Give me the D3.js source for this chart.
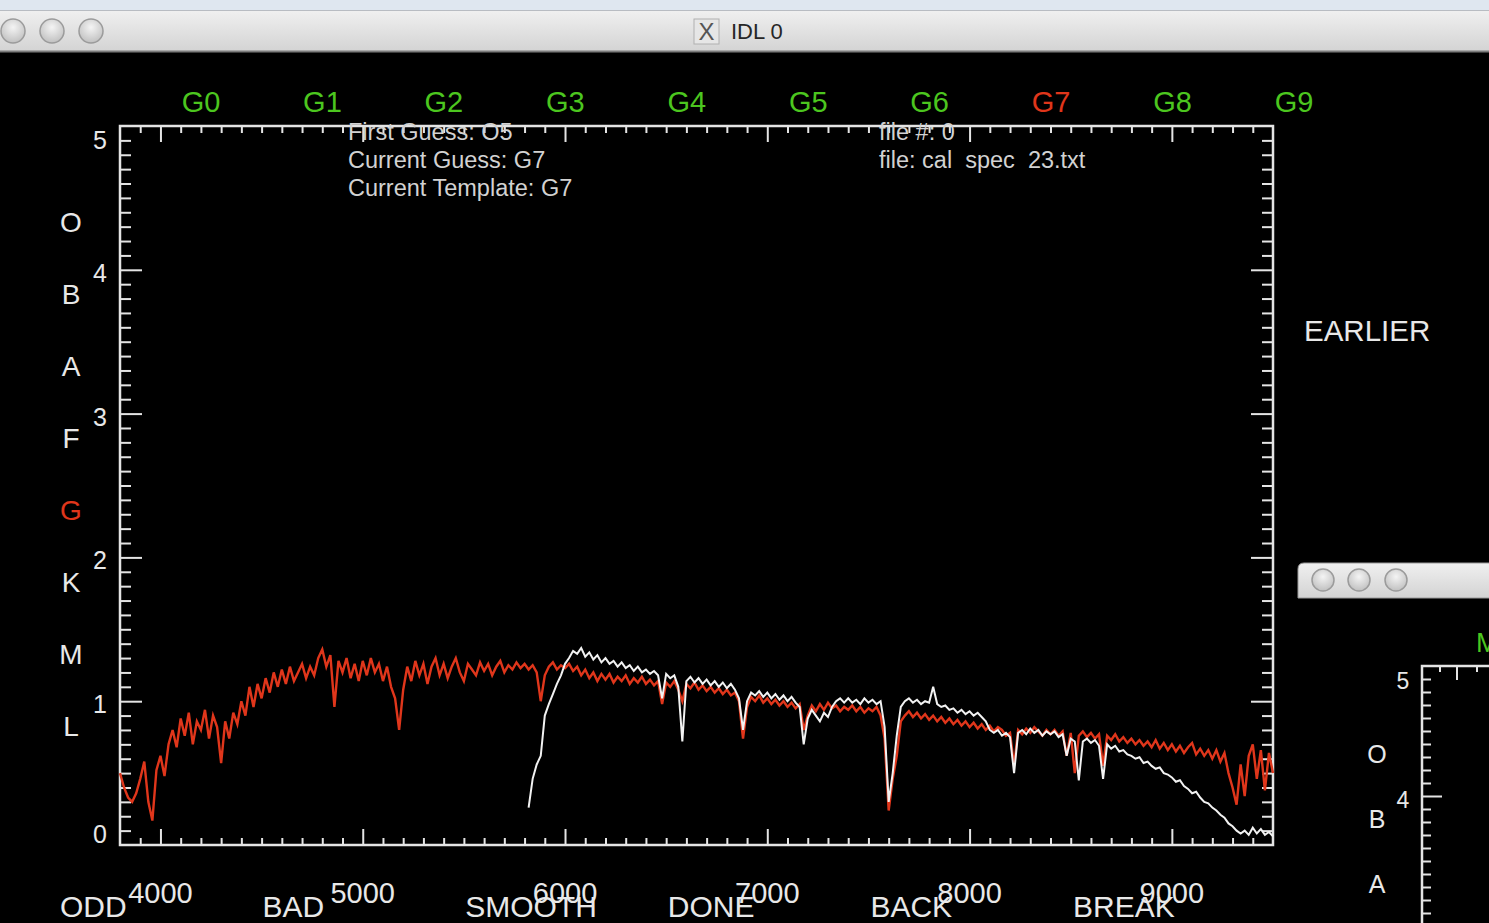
<!DOCTYPE html>
<html>
<head>
<meta charset="utf-8">
<script src="https://cdn.jsdelivr.net/npm/d3@7"></script>
<style>
  html, body { margin: 0; padding: 0; background: #000; overflow: hidden; }
  svg { display: block; }
  text { font-family: "Liberation Sans", Arial, Helvetica, sans-serif; }
</style>
</head>
<body>
<svg id="chart" width="1489" height="923"></svg>
<script>
// ---- Spectrum data (flux normalised, wavelength in Angstrom) ----
// Template spectrum (G7), sampled every 20 A starting at 3800 A
const templateStart = 3800;
const templateStep = 20;
const templateFlux = [
  0.50, 0.40, 0.33, 0.30, 0.36, 0.46, 0.58, 0.30, 0.17, 0.52,
  0.62, 0.48, 0.70, 0.80, 0.68, 0.88, 0.76, 0.92, 0.70, 0.86,
  0.80, 0.94, 0.74, 0.90, 0.82, 0.57, 0.86, 0.74, 0.92, 0.84,
  1.00, 0.90, 1.10, 0.96, 1.12, 1.02, 1.16, 1.06, 1.20, 1.10,
  1.22, 1.12, 1.24, 1.14, 1.20, 1.26, 1.16, 1.24, 1.18, 1.30,
  1.36, 1.24, 1.32, 0.96, 1.28, 1.20, 1.30, 1.16, 1.26, 1.14,
  1.28, 1.18, 1.30, 1.20, 1.26, 1.14, 1.24, 1.10, 1.02, 0.80,
  1.08, 1.24, 1.14, 1.28, 1.18, 1.26, 1.12, 1.24, 1.30, 1.18,
  1.26, 1.16, 1.24, 1.30, 1.20, 1.14, 1.26, 1.22, 1.18, 1.27,
  1.21, 1.26, 1.18, 1.24, 1.28, 1.20, 1.25, 1.22, 1.27, 1.23,
  1.26, 1.22, 1.25, 1.20, 1.00, 1.18, 1.24, 1.27, 1.22, 1.25,
  1.23, 1.26, 1.21, 1.24, 1.18, 1.22, 1.16, 1.20, 1.14, 1.19,
  1.15, 1.19, 1.13, 1.17, 1.14, 1.18, 1.12, 1.16, 1.13, 1.17,
  1.12, 1.15, 1.11, 1.14, 0.98, 1.13, 1.10, 1.14, 1.08, 1.00,
  1.12, 1.09, 1.13, 1.08, 1.11, 1.07, 1.10, 1.06, 1.09, 1.05,
  1.08, 1.04, 1.06, 1.00, 0.74, 0.96, 1.03, 1.00, 1.04, 0.99,
  1.02, 0.98, 1.01, 0.97, 1.00, 0.96, 0.99, 0.95, 0.98, 0.80,
  0.90, 0.97, 0.93, 0.98, 0.94, 0.99, 0.95, 0.97, 0.93, 0.96,
  0.94, 0.97, 0.93, 0.96, 0.92, 0.95, 0.93, 0.96, 0.90, 0.74,
  0.24, 0.46, 0.62, 0.86, 0.90, 0.93, 0.89, 0.92, 0.88, 0.91,
  0.87, 0.90, 0.86, 0.89, 0.85, 0.88, 0.84, 0.87, 0.83, 0.86,
  0.82, 0.85, 0.81, 0.84, 0.80, 0.83, 0.79, 0.82, 0.80, 0.76,
  0.78, 0.55, 0.80, 0.77, 0.81, 0.78, 0.82, 0.79, 0.76, 0.80,
  0.77, 0.80, 0.76, 0.79, 0.62, 0.78, 0.50, 0.76, 0.79, 0.75,
  0.78, 0.74, 0.77, 0.55, 0.76, 0.73, 0.77, 0.72, 0.75, 0.71,
  0.74, 0.70, 0.73, 0.69, 0.72, 0.68, 0.73, 0.67, 0.71, 0.66,
  0.70, 0.65, 0.69, 0.64, 0.68, 0.71, 0.63, 0.67, 0.62, 0.66,
  0.60, 0.66, 0.58, 0.64, 0.50, 0.40, 0.28, 0.56, 0.34, 0.62,
  0.70, 0.46, 0.66, 0.38, 0.64, 0.50
];

// Observed spectrum (cal_spec_23), sampled every 20 A starting at 5820 A
const observedStart = 5820;
const observedStep = 20;
const observedFlux = [
  0.26, 0.46, 0.56, 0.62, 0.90, 0.98, 1.05, 1.12, 1.18, 1.26,
  1.30, 1.35, 1.33, 1.37, 1.31, 1.34, 1.29, 1.32, 1.27,
  1.30, 1.26, 1.28, 1.24, 1.27, 1.23, 1.25, 1.21, 1.24, 1.20,
  1.22, 1.19, 1.21, 1.18, 1.02, 1.19, 1.16, 1.18, 1.10, 0.72,
  1.14, 1.17, 1.13, 1.16, 1.12, 1.15, 1.11, 1.14, 1.10, 1.13,
  1.09, 1.12, 1.08, 1.02, 0.80, 1.00, 1.06, 1.04, 1.07, 1.03,
  1.06, 1.02, 1.05, 1.01, 1.04, 1.00, 1.03, 0.99, 0.96, 0.70,
  0.88, 0.94, 0.90, 0.86, 0.92, 0.89, 0.96, 1.00, 1.02, 0.99,
  1.02, 0.99, 1.01, 0.98, 1.02, 0.99, 1.01, 0.98, 1.00, 0.82,
  0.30, 0.50, 0.76, 0.96, 1.00, 1.02, 0.99, 1.01, 0.98, 1.00,
  0.99, 1.10, 0.98, 0.96, 0.97, 0.94, 0.95, 0.92, 0.94, 0.91,
  0.93, 0.90, 0.92, 0.89, 0.86, 0.80, 0.78, 0.80, 0.76, 0.78,
  0.75, 0.50, 0.78, 0.80, 0.77, 0.81, 0.78, 0.80, 0.76, 0.79,
  0.77, 0.79, 0.75, 0.77, 0.62, 0.74, 0.72, 0.45, 0.72, 0.74,
  0.71, 0.73, 0.69, 0.46, 0.70, 0.67, 0.69, 0.65, 0.66, 0.63,
  0.62, 0.60, 0.61, 0.57, 0.58, 0.55, 0.53, 0.54, 0.50, 0.49,
  0.47, 0.44, 0.45, 0.41, 0.39, 0.36, 0.37, 0.33, 0.30, 0.29,
  0.26, 0.24, 0.21, 0.19, 0.15, 0.13, 0.10, 0.08, 0.10, 0.07,
  0.12, 0.08, 0.11, 0.07, 0.09, 0.06
];

// ---- Labels ----
const xTickValues = [4000, 5000, 6000, 7000, 8000, 9000];
const yTickValues = [0, 1, 2, 3, 4, 5];
const subTypes = ["G0", "G1", "G2", "G3", "G4", "G5", "G6", "G7", "G8", "G9"];
const currentSubType = "G7";
const spectralClasses = ["O", "B", "A", "F", "G", "K", "M", "L"];
const currentClass = "G";
const buttonLabels = ["ODD", "BAD", "SMOOTH", "DONE", "BACK", "BREAK"];
const guessLines = ["First Guess: O5", "Current Guess: G7", "Current Template: G7"];
const fileLines = ["file #: 0", "file: cal  spec  23.txt"];

// ---- Colours ----
const GREEN = "#4cc61f";
const RED = "#e0361b";
const AXIS = "#e4e4e4";
const TEXT = "#e8e8e8";
const INFO = "#d2d2d2";

const svg = d3.select("#chart");
const defs = svg.append("defs");

const barGrad = defs.append("linearGradient").attr("id", "bar").attr("x1", 0).attr("y1", 0).attr("x2", 0).attr("y2", 1);
barGrad.append("stop").attr("offset", "0%").attr("stop-color", "#f0f0f0");
barGrad.append("stop").attr("offset", "100%").attr("stop-color", "#d3d3d3");

const btnGrad = defs.append("radialGradient").attr("id", "btn").attr("cx", "50%").attr("cy", "35%").attr("r", "60%");
btnGrad.append("stop").attr("offset", "0%").attr("stop-color", "#f4f4f4");
btnGrad.append("stop").attr("offset", "100%").attr("stop-color", "#c4c4c4");

// ---- Window background and title bar ----
svg.append("rect").attr("x", 0).attr("y", 0).attr("width", 1489).attr("height", 923).attr("fill", "#000");
svg.append("rect").attr("x", 0).attr("y", 0).attr("width", 1489).attr("height", 11).attr("fill", "#dfe7f0");
svg.append("rect").attr("x", -10).attr("y", 10).attr("width", 1510).attr("height", 42).attr("fill", "url(#bar)");
svg.append("line").attr("x1", 0).attr("x2", 1489).attr("y1", 10.5).attr("y2", 10.5).attr("stroke", "#b8bcc2");
svg.append("line").attr("x1", 0).attr("x2", 1489).attr("y1", 51.5).attr("y2", 51.5).attr("stroke", "#7c7c7c").attr("stroke-width", 2);

[13, 52, 91].forEach(cx => {
  svg.append("circle").attr("cx", cx).attr("cy", 31).attr("r", 12)
    .attr("fill", "url(#btn)").attr("stroke", "#9b9b9b").attr("stroke-width", 1.5);
});
svg.append("rect").attr("x", 694).attr("y", 19).attr("width", 25).attr("height", 25)
  .attr("fill", "#e6e6e6").attr("stroke", "#b0b0b0");
svg.append("text").attr("x", 706.5).attr("y", 40).attr("text-anchor", "middle")
  .attr("font-family", "DejaVu Serif, serif").attr("font-size", 24).attr("fill", "#555").text("X");
svg.append("text").attr("x", 731).attr("y", 39).attr("font-size", 22).attr("fill", "#262626").text("IDL 0");

// ---- Main plot ----
const x = d3.scaleLinear().domain([3800, 9500]).range([120, 1273]);
const y = d3.scaleLinear().domain([0, 5]).range([845, 126]);

const xMinor = d3.range(3900, 9500, 100).filter(v => v % 1000 !== 0);
const yMinor = d3.range(1, 50).map(v => v / 10).filter(v => v % 1 !== 0);

const plot = svg.append("g");

function tickRow(axisGen, scale, values, size, transform) {
  plot.append("g").attr("transform", transform)
    .call(axisGen(scale).tickValues(values).tickSize(size).tickSizeOuter(0).tickFormat(""))
    .call(s => s.select(".domain").remove())
    .selectAll("line").attr("stroke", AXIS).attr("stroke-width", 2);
}
tickRow(d3.axisBottom, x, xTickValues, -16, `translate(0,${y(0)})`);
tickRow(d3.axisBottom, x, xMinor, -7, `translate(0,${y(0)})`);
tickRow(d3.axisTop, x, xTickValues, -16, `translate(0,${y(5)})`);
tickRow(d3.axisTop, x, xMinor, -7, `translate(0,${y(5)})`);
tickRow(d3.axisLeft, y, yTickValues.slice(1, 5), -22, `translate(${x(3800)},0)`);
tickRow(d3.axisLeft, y, yMinor, -11, `translate(${x(3800)},0)`);
tickRow(d3.axisRight, y, yTickValues.slice(1, 5), -22, `translate(${x(9500)},0)`);
tickRow(d3.axisRight, y, yMinor, -11, `translate(${x(9500)},0)`);

plot.append("rect")
  .attr("x", x(3800)).attr("y", y(5))
  .attr("width", x(9500) - x(3800)).attr("height", y(0) - y(5))
  .attr("fill", "none").attr("stroke", AXIS).attr("stroke-width", 2.5);

// spectra
const line = d3.line().x(d => x(d.w)).y(d => y(d.f));
const templatePts = templateFlux.map((f, i) => ({ w: templateStart + i * templateStep, f }));
const observedPts = observedFlux.map((f, i) => ({ w: observedStart + i * observedStep, f }));

plot.append("path").datum(templatePts).attr("d", line)
  .attr("fill", "none").attr("stroke", RED).attr("stroke-width", 2.4).attr("stroke-linejoin", "miter");
plot.append("path").datum(observedPts).attr("d", line)
  .attr("fill", "none").attr("stroke", "#f2f2f2").attr("stroke-width", 2).attr("stroke-linejoin", "miter");

// tick labels
plot.selectAll(".xlab").data(xTickValues).join("text")
  .attr("x", d => x(d)).attr("y", 903).attr("text-anchor", "middle")
  .attr("font-size", 29).attr("fill", TEXT).text(d => d);

plot.selectAll(".ylab").data(yTickValues).join("text")
  .attr("x", 100).attr("text-anchor", "middle")
  .attr("y", d => d === 5 ? y(d) + 23 : d === 0 ? y(d) - 2 : y(d) + 12)
  .attr("font-size", 25).attr("fill", TEXT).text(d => d);

// subtype selector across the top
const subX = d3.scalePoint().domain(subTypes).range([201, 1294]);
svg.selectAll(".sub").data(subTypes).join("text")
  .attr("x", d => subX(d)).attr("y", 112).attr("text-anchor", "middle")
  .attr("font-size", 29).attr("fill", d => d === currentSubType ? RED : GREEN).text(d => d);

// spectral class selector down the left
const classY = d3.scalePoint().domain(spectralClasses).range([222, 726]);
svg.selectAll(".cls").data(spectralClasses).join("text")
  .attr("x", 71).attr("y", d => classY(d) + 10).attr("text-anchor", "middle")
  .attr("font-size", 28).attr("fill", d => d === currentClass ? RED : TEXT).text(d => d);

// info text
guessLines.forEach((t, i) => {
  svg.append("text").attr("x", 348).attr("y", 140 + i * 28)
    .attr("font-size", 23.5).attr("fill", INFO).style("white-space", "pre").text(t);
});
fileLines.forEach((t, i) => {
  svg.append("text").attr("x", 879).attr("y", 140 + i * 28)
    .attr("font-size", 23.5).attr("fill", INFO).style("white-space", "pre").text(t);
});

svg.append("text").attr("x", 1304).attr("y", 341).attr("font-size", 29.5).attr("fill", TEXT).text("EARLIER");

// buttons along the bottom
const btnX = d3.scalePoint().domain(buttonLabels).range([60, 1073]);
svg.selectAll(".btn").data(buttonLabels).join("text")
  .attr("x", d => btnX(d)).attr("y", 917)
  .attr("font-size", 30).attr("fill", TEXT).text(d => d);

// ---- Second (overlapping) window ----
const win2 = svg.append("g");
win2.append("rect").attr("x", 1298).attr("y", 563).attr("width", 200).attr("height", 370).attr("fill", "#000");
win2.append("path")
  .attr("d", "M1298,598 L1298,569 Q1298,563 1304,563 L1495,563 L1495,598 Z")
  .attr("fill", "url(#bar)").attr("stroke", "#9a9a9a");
[1323, 1359, 1396].forEach(cx => {
  win2.append("circle").attr("cx", cx).attr("cy", 580).attr("r", 11)
    .attr("fill", "url(#btn)").attr("stroke", "#9b9b9b").attr("stroke-width", 1.5);
});

const y2 = d3.scaleLinear().domain([0, 5]).range([1316, 666]);
const y2Minor = d3.range(31, 50).map(v => v / 10).filter(v => v % 1 !== 0);
win2.append("g").attr("transform", "translate(1422,0)")
  .call(d3.axisLeft(y2).tickValues([3, 4]).tickSize(-20).tickSizeOuter(0).tickFormat(""))
  .call(s => s.select(".domain").remove())
  .selectAll("line").attr("stroke", AXIS).attr("stroke-width", 2);
win2.append("g").attr("transform", "translate(1422,0)")
  .call(d3.axisLeft(y2).tickValues(y2Minor).tickSize(-9).tickSizeOuter(0).tickFormat(""))
  .call(s => s.select(".domain").remove())
  .selectAll("line").attr("stroke", AXIS).attr("stroke-width", 2);
win2.append("path").attr("d", "M1422,930 L1422,666 L1495,666")
  .attr("fill", "none").attr("stroke", AXIS).attr("stroke-width", 2.5);
[[1440, 6], [1457, 14], [1477, 6]].forEach(([tx, len]) => {
  win2.append("line").attr("x1", tx).attr("x2", tx).attr("y1", 666).attr("y2", 666 + len)
    .attr("stroke", AXIS).attr("stroke-width", 2);
});
win2.append("text").attr("x", 1403).attr("y", y2(5) + 23).attr("text-anchor", "middle")
  .attr("font-size", 23).attr("fill", TEXT).text(5);
win2.append("text").attr("x", 1403).attr("y", y2(4) + 12).attr("text-anchor", "middle")
  .attr("font-size", 23).attr("fill", TEXT).text(4);
// only the upper classes fit in the visible part of this window
const visibleClasses2 = spectralClasses.slice(0, 3);
const classY2 = d3.scalePoint().domain(visibleClasses2).range([754, 754 + 2 * 65]);
win2.selectAll(".cls2").data(visibleClasses2).join("text")
  .attr("x", 1377).attr("y", d => classY2(d) + 9).attr("text-anchor", "middle")
  .attr("font-size", 25).attr("fill", TEXT).text(d => d);
win2.append("text").attr("x", 1476).attr("y", 652).attr("font-size", 27).attr("fill", GREEN).text("M0");
</script>
</body>
</html>
